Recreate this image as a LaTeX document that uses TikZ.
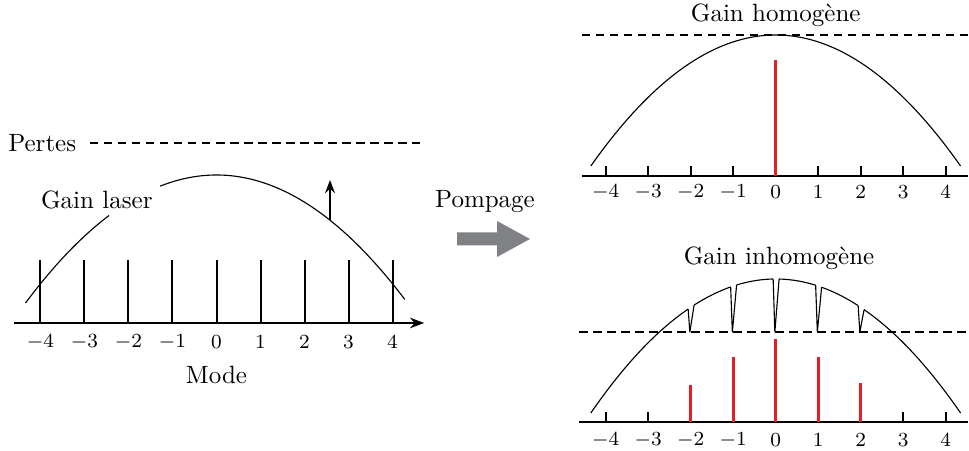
\documentclass[tikz,border=0pt]{standalone}
\usepackage{fontspec}
\usetikzlibrary{arrows.meta, positioning, calc}
\definecolor{laserred}{RGB}{232,30,37}
\definecolor{pumpgray}{RGB}{128,129,133}
\tikzset{
    spectrum/.style={>=Stealth, font=\normalsize, x=0.4pt, y=0.4pt},
    axisline/.style={line width=0.6pt},
    modeline/.style={line width=0.8pt},
    tickmark/.style={line width=0.7pt},
    laserline/.style={draw=laserred, line width=1.3pt},
    lossline/.style={line width=0.45pt, dash pattern=on 3.4pt off 2.2pt},
    gaincurve/.style={line width=0.45pt},
    ticklabel/.style={font=\footnotesize},
    pumparrow/.style={fill=pumpgray},
    % gain curves (y in px, x in mode units)
    declare function={gl(\x)=148-128*\x*\x/(4.34*4.34);
                      gh(\x)=141-131*\x*\x/(4.35*4.35);
                      gi(\x)=143-134*\x*\x/(4.35*4.35);},
}

\begin{document}
\begin{tikzpicture}[spectrum]
    \useasboundingbox (0,0) rectangle (969,451);

    % laser seul
    \begin{scope}[shift={(216.5,128)}, x=17.6pt]
        \draw[axisline, ->] (-4.6,0) -- (4.72,0);
        \foreach \m [count=\k] in {-4,...,4} {
            \draw[modeline] (\m,0) -- (\m,63);
            \node[ticklabel] (lab\k) at (\m,-19) {$\m$};
        }
        \draw[gaincurve] plot[domain=-4.34:-2.44, samples=30] (\x,{gl(\x)});
        \draw[gaincurve] plot[domain=-1.28:4.28, samples=60] (\x,{gl(\x)});
        \draw[->, line width=0.5pt] (2.58,{gl(2.58)}) -- (2.58,143);
        \node (gainlaser) at (-2.72,123) {Gain laser};
        \coordinate (lossA) at (-2.875,180);
        \coordinate (lossB) at (4.625,180);
        \draw[lossline] (lossA) -- (lossB);
        \node[left=2pt of lossA] (pertes) {Pertes};
        \node (modelabel) at (0,-52) {Mode};
    \end{scope}

    % pompage
    \node (pompage) at (485,249) {Pompage};
    \fill[pumparrow] (457,205.5) -- (497,205.5) -- (497,194) -- (530,212)
        -- (497,230) -- (497,218.5) -- (457,218.5) -- cycle;

    % gain homogene
    \begin{scope}[shift={(775.7,275)}, x=17pt]
        \draw[axisline] (-4.56,0) -- (4.52,0);
        \foreach \m [count=\k] in {-4,...,4} {
            \draw[tickmark] (\m,0) -- (\m,10);
            \node[ticklabel] (hlab\k) at (\m,-16) {$\m$};
        }
        \draw[lossline] (-4.56,141) -- (4.52,141);
        \draw[gaincurve] plot[domain=-4.35:4.35, samples=80] (\x,{gh(\x)});
        \draw[laserline] (0,0) -- (0,116);
        \node (homo) at (0,161) {Gain homogène};
    \end{scope}

    % gain inhomogene
    \begin{scope}[shift={(775.7,29)}, x=17pt]
        \draw[axisline] (-4.62,0) -- (4.52,0);
        \foreach \m [count=\k] in {-4,...,4} {
            \draw[tickmark] (\m,0) -- (\m,10);
            \node[ticklabel] (ilab\k) at (\m,-18) {$\m$};
        }
        \draw[lossline] (-4.62,90) -- (4.52,90);
        \draw[gaincurve] plot[domain=-4.35:-2.06, samples=40] (\x,{gi(\x)});
        \foreach \m in {-2,...,1}
            \draw[gaincurve] plot[domain=\m+0.08:\m+0.94, samples=20] (\x,{gi(\x)});
        \draw[gaincurve] plot[domain=2.08:4.35, samples=40] (\x,{gi(\x)});
        \foreach \m in {-2,...,2}
            \draw[gaincurve, line join=round] (\m-0.06,{gi(\m-0.06)}) -- (\m-0.02,90)
                -- (\m+0.08,{gi(\m+0.08)});
        \foreach \m/\h in {-2/37, -1/65, 0/83, 1/65, 2/39}
            \draw[laserline] (\m,0) -- (\m,\h);
        \node (inhomo) at (0.08,164) {Gain inhomogène};
    \end{scope}
\end{tikzpicture}
\end{document}
